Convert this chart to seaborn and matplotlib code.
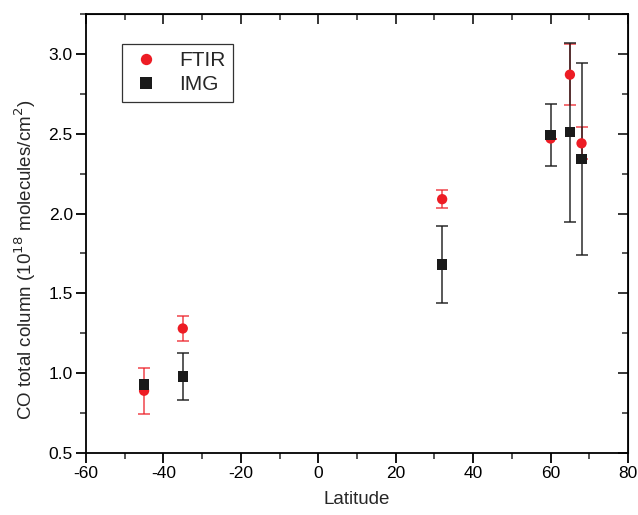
import numpy as np
import pandas as pd
import seaborn as sns
import matplotlib.pyplot as plt
from matplotlib.ticker import MultipleLocator

# values
lat_ftir = [-45, -35, 32, 60, 65, 68]
co_ftir = [0.89, 1.28, 2.09, 2.47, 2.87, 2.44]
err_ftir = [0.145, 0.08, 0.055, 0.0, 0.19, 0.10]

lat_img = [-45, -35, 32, 60, 65, 68]
co_img = [0.93, 0.98, 1.68, 2.49, 2.51, 2.34]
err_img = [0.0, 0.145, 0.24, 0.195, 0.56, 0.60]

df = pd.concat([
    pd.DataFrame({'Latitude': lat_ftir, 'CO': co_ftir, 'err': err_ftir, 'src': 'FTIR'}),
    pd.DataFrame({'Latitude': lat_img, 'CO': co_img, 'err': err_img, 'src': 'IMG'}),
])

sns.set_style("ticks")
plt.rcParams['font.family'] = ['Liberation Sans', 'DejaVu Sans']
plt.rcParams['axes.unicode_minus'] = False

red = '#ED1C24'
blk = '#1A1A1A'

fig = plt.figure(figsize=(6.38, 5.15), dpi=100)
ax = fig.add_axes([0.1348, 0.1204, 0.8495, 0.8524])

# error bars first
f = df[df.src == 'FTIR']
ax.errorbar(f.Latitude, f.CO, yerr=f.err, fmt='none', ecolor=red, alpha=0.75,
            elinewidth=1.2, capsize=4.3, capthick=1.2, zorder=2)
g = df[(df.src == 'IMG') & (df.err > 0)]
ax.errorbar(g.Latitude, g.CO, yerr=g.err, fmt='none', ecolor=blk, alpha=0.85,
            elinewidth=1.2, capsize=4.3, capthick=1.2, zorder=3)

sns.scatterplot(data=df, x='Latitude', y='CO', hue='src', style='src',
                markers={'FTIR': 'o', 'IMG': 's'},
                palette={'FTIR': red, 'IMG': blk},
                s=55, linewidth=0, ax=ax, zorder=4)

ax.set_xlim(-60, 80)
ax.set_ylim(0.5, 3.25)
ax.xaxis.set_major_locator(MultipleLocator(20))
ax.xaxis.set_minor_locator(MultipleLocator(10))
ax.yaxis.set_major_locator(MultipleLocator(0.5))
ax.yaxis.set_minor_locator(MultipleLocator(0.25))
ax.yaxis.set_major_formatter(plt.FormatStrFormatter('%.1f'))

for s in ax.spines.values():
    s.set_linewidth(1.3)
    s.set_visible(True)
    s.set_color('black')

ax.tick_params(which='major', direction='out', length=7, width=1.3, labelsize=12.5,
               colors='black', pad=2.5)
ax.tick_params(which='minor', direction='out', length=4, width=1.1)

# mirrored ticks on top / right pointing inward
top = ax.secondary_xaxis('top')
top.xaxis.set_major_locator(MultipleLocator(20))
top.xaxis.set_minor_locator(MultipleLocator(10))
top.tick_params(which='major', direction='in', length=7, width=1.3, labeltop=False)
top.tick_params(which='minor', direction='in', length=4, width=1.1)
right = ax.secondary_yaxis('right')
right.yaxis.set_major_locator(MultipleLocator(0.5))
right.yaxis.set_minor_locator(MultipleLocator(0.25))
right.tick_params(which='major', direction='in', length=7, width=1.3, labelright=False)
right.tick_params(which='minor', direction='in', length=4, width=1.1)

ax.set_xlabel('Latitude', fontsize=13.5, labelpad=7)
ax.set_ylabel('CO total column (10$^{18}$ molecules/cm$^{2}$)', fontsize=13.5)
ax.yaxis.set_label_coords(-0.088, 0.44)

leg = ax.legend(loc='upper left', bbox_to_anchor=(0.066, 0.932), borderaxespad=0,
                fontsize=15, frameon=True, fancybox=False, edgecolor='black',
                handlelength=1.6, handletextpad=0.8, borderpad=0.35,
                labelspacing=0.25, markerscale=1.1)
leg.get_frame().set_linewidth(0.9)

fig.savefig('out.png', dpi=100)
